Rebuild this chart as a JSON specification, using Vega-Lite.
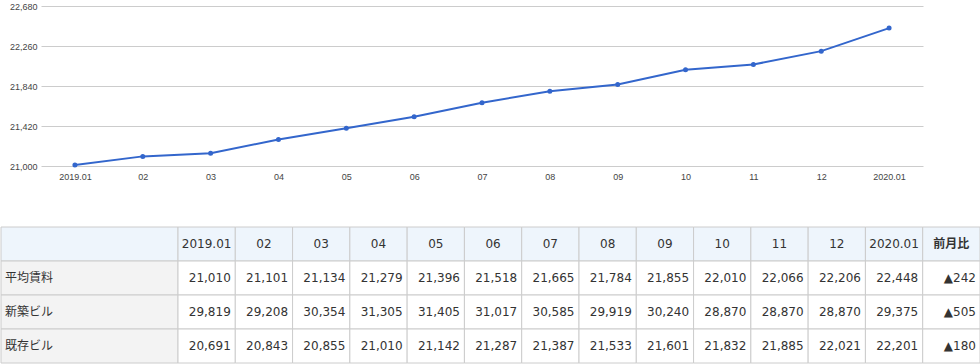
{
  "$schema": "https://vega.github.io/schema/vega-lite/v6.json",
  "padding": {"top": 2, "left": 0, "right": 0, "bottom": 0},
  "background": "white",
  "config": {"view": {"stroke": null}, "font": "Liberation Sans"},
  "datasets": {
    "rent": [
      {"series": "平均賃料", "month": "2019.01", "value": 21010},
      {"series": "平均賃料", "month": "02", "value": 21101},
      {"series": "平均賃料", "month": "03", "value": 21134},
      {"series": "平均賃料", "month": "04", "value": 21279},
      {"series": "平均賃料", "month": "05", "value": 21396},
      {"series": "平均賃料", "month": "06", "value": 21518},
      {"series": "平均賃料", "month": "07", "value": 21665},
      {"series": "平均賃料", "month": "08", "value": 21784},
      {"series": "平均賃料", "month": "09", "value": 21855},
      {"series": "平均賃料", "month": "10", "value": 22010},
      {"series": "平均賃料", "month": "11", "value": 22066},
      {"series": "平均賃料", "month": "12", "value": 22206},
      {"series": "平均賃料", "month": "2020.01", "value": 22448},
      {"series": "新築ビル", "month": "2019.01", "value": 29819},
      {"series": "新築ビル", "month": "02", "value": 29208},
      {"series": "新築ビル", "month": "03", "value": 30354},
      {"series": "新築ビル", "month": "04", "value": 31305},
      {"series": "新築ビル", "month": "05", "value": 31405},
      {"series": "新築ビル", "month": "06", "value": 31017},
      {"series": "新築ビル", "month": "07", "value": 30585},
      {"series": "新築ビル", "month": "08", "value": 29919},
      {"series": "新築ビル", "month": "09", "value": 30240},
      {"series": "新築ビル", "month": "10", "value": 28870},
      {"series": "新築ビル", "month": "11", "value": 28870},
      {"series": "新築ビル", "month": "12", "value": 28870},
      {"series": "新築ビル", "month": "2020.01", "value": 29375},
      {"series": "既存ビル", "month": "2019.01", "value": 20691},
      {"series": "既存ビル", "month": "02", "value": 20843},
      {"series": "既存ビル", "month": "03", "value": 20855},
      {"series": "既存ビル", "month": "04", "value": 21010},
      {"series": "既存ビル", "month": "05", "value": 21142},
      {"series": "既存ビル", "month": "06", "value": 21287},
      {"series": "既存ビル", "month": "07", "value": 21387},
      {"series": "既存ビル", "month": "08", "value": 21533},
      {"series": "既存ビル", "month": "09", "value": 21601},
      {"series": "既存ビル", "month": "10", "value": 21832},
      {"series": "既存ビル", "month": "11", "value": 21885},
      {"series": "既存ビル", "month": "12", "value": 22021},
      {"series": "既存ビル", "month": "2020.01", "value": 22201}
    ],
    "cols": [
      {"col": "2019.01"}, {"col": "02"}, {"col": "03"}, {"col": "04"}, {"col": "05"},
      {"col": "06"}, {"col": "07"}, {"col": "08"}, {"col": "09"}, {"col": "10"},
      {"col": "11"}, {"col": "12"}, {"col": "2020.01"}, {"col": "前月比"}
    ],
    "change": [
      {"series": "平均賃料", "change": "▲242"},
      {"series": "新築ビル", "change": "▲505"},
      {"series": "既存ビル", "change": "▲180"}
    ]
  },
  "spacing": 45,
  "vconcat": [
    {
      "width": 922,
      "height": 160,
      "data": {"name": "rent"},
      "transform": [{"filter": "datum.series === '平均賃料'"}],
      "encoding": {
        "x": {
          "field": "month", "type": "ordinal", "sort": null,
          "scale": {"type": "point", "range": [40, 922], "padding": 0.5},
          "axis": {"title": null, "grid": false, "domain": false, "ticks": false, "labelPadding": 6, "labelFontSize": 9, "labelColor": "#444", "labelAngle": 0}
        },
        "y": {
          "field": "value", "type": "quantitative",
          "scale": {"domain": [21000, 22680], "nice": false, "zero": false},
          "axis": {"title": null, "values": [21000, 21420, 21840, 22260, 22680], "format": ",.0f", "offset": -40, "domain": false, "ticks": false, "labelPadding": 4, "labelFontSize": 9, "labelColor": "#444", "gridColor": "#cccccc"}
        }
      },
      "layer": [
        {"mark": {"type": "line", "color": "#3366cc", "strokeWidth": 2}},
        {"mark": {"type": "point", "filled": true, "color": "#3366cc", "size": 25, "opacity": 1}}
      ]
    },
    {
      "spacing": 0,
      "bounds": "flush",
      "hconcat": [
        {
          "width": 177,
          "height": 136,
          "layer": [
            {
              "data": {"values": [{"col": "label"}]},
              "mark": {"type": "rect", "fill": "#eef5fc", "stroke": "#cccccc", "strokeWidth": 1},
              "encoding": {
                "x": {"field": "col", "type": "nominal", "scale": {"type": "band", "domain": ["label"], "paddingInner": 0, "paddingOuter": 0}, "axis": null},
                "y": {"datum": "h", "type": "nominal", "scale": {"type": "band", "domain": ["h", "平均賃料", "新築ビル", "既存ビル"], "paddingInner": 0, "paddingOuter": 0}, "axis": null}
              }
            },
            {
              "data": {"name": "change"},
              "mark": {"type": "rect", "fill": "#f3f3f3", "stroke": "#cccccc", "strokeWidth": 1},
              "encoding": {
                "x": {"datum": "label", "type": "nominal", "scale": {"type": "band", "domain": ["label"], "paddingInner": 0, "paddingOuter": 0}, "axis": null},
                "y": {"field": "series", "type": "nominal", "scale": {"type": "band", "domain": ["h", "平均賃料", "新築ビル", "既存ビル"], "paddingInner": 0, "paddingOuter": 0}, "axis": null}
              }
            },
            {
              "data": {"name": "change"},
              "mark": {"type": "text", "align": "left", "baseline": "middle", "dx": 4, "fontSize": 12, "color": "#333333", "font": "DejaVu Sans, Noto Sans CJK JP"},
              "encoding": {
                "x": {"datum": "label", "type": "nominal", "bandPosition": 0, "scale": {"type": "band", "domain": ["label"], "paddingInner": 0, "paddingOuter": 0}, "axis": null},
                "y": {"field": "series", "type": "nominal", "scale": {"type": "band", "domain": ["h", "平均賃料", "新築ビル", "既存ビル"], "paddingInner": 0, "paddingOuter": 0}, "axis": null},
                "text": {"field": "series"}
              }
            }
          ]
        },
        {
          "width": 802,
          "height": 136,
          "encoding": {
            "y": {"field": "series", "type": "nominal", "scale": {"type": "band", "domain": ["h", "平均賃料", "新築ビル", "既存ビル"], "paddingInner": 0, "paddingOuter": 0}, "axis": null}
          },
          "layer": [
            {
              "data": {"name": "cols"},
              "mark": {"type": "rect", "fill": "#eef5fc", "stroke": "#cccccc", "strokeWidth": 1},
              "encoding": {
                "x": {"field": "col", "type": "nominal", "sort": null, "scale": {"type": "band", "domain": ["2019.01", "02", "03", "04", "05", "06", "07", "08", "09", "10", "11", "12", "2020.01", "前月比"], "paddingInner": 0, "paddingOuter": 0}, "axis": null},
                "y": {"datum": "h", "type": "nominal"}
              }
            },
            {
              "data": {"name": "cols"},
              "transform": [{"filter": "datum.col !== '前月比'"}],
              "mark": {"type": "text", "align": "center", "baseline": "middle", "fontSize": 12, "color": "#333333", "font": "DejaVu Sans, Noto Sans CJK JP"},
              "encoding": {
                "x": {"field": "col", "type": "nominal", "sort": null},
                "y": {"datum": "h", "type": "nominal"},
                "text": {"field": "col"}
              }
            },
            {
              "data": {"name": "cols"},
              "transform": [{"filter": "datum.col === '前月比'"}],
              "mark": {"type": "text", "align": "center", "baseline": "middle", "fontSize": 12, "fontWeight": "bold", "color": "#333333", "font": "Noto Sans CJK JP"},
              "encoding": {
                "x": {"field": "col", "type": "nominal", "sort": null},
                "y": {"datum": "h", "type": "nominal"},
                "text": {"field": "col"}
              }
            },
            {
              "data": {"name": "rent"},
              "mark": {"type": "rect", "fill": "white", "stroke": "#cccccc", "strokeWidth": 1},
              "encoding": {
                "x": {"field": "month", "type": "nominal", "sort": null}
              }
            },
            {
              "data": {"name": "rent"},
              "mark": {"type": "text", "align": "right", "baseline": "middle", "dx": -4.5, "fontSize": 12, "color": "#333333", "font": "DejaVu Sans"},
              "encoding": {
                "x": {"field": "month", "type": "nominal", "sort": null, "bandPosition": 1},
                "text": {"field": "value", "type": "quantitative", "format": ",.0f"}
              }
            },
            {
              "data": {"name": "change"},
              "mark": {"type": "rect", "fill": "white", "stroke": "#cccccc", "strokeWidth": 1},
              "encoding": {
                "x": {"datum": "前月比", "type": "nominal"}
              }
            },
            {
              "data": {"name": "change"},
              "mark": {"type": "text", "align": "right", "baseline": "middle", "dx": -4, "fontSize": 12, "color": "#333333", "font": "DejaVu Sans"},
              "encoding": {
                "x": {"datum": "前月比", "type": "nominal", "bandPosition": 1},
                "text": {"field": "change"}
              }
            }
          ]
        }
      ]
    }
  ]
}
